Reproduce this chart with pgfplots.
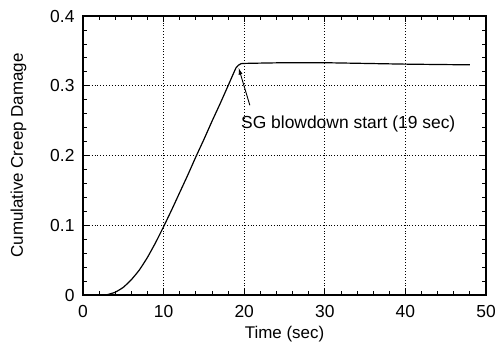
\documentclass[border=0pt]{standalone}
\usepackage{fontspec}
\setmainfont{Liberation Sans}
\usepackage{pgfplots}
\pgfplotsset{compat=1.18}
\usetikzlibrary{arrows.meta}
\begin{document}
\begin{tikzpicture}
\useasboundingbox (-83bp,-54bp) rectangle (415bp,295bp);
\begin{axis}[
  at={(0,0)}, anchor=south west,
  scale only axis, width=403bp, height=279bp,
  xmin=0, xmax=50, ymin=0, ymax=0.4,
  xtick={0,10,20,30,40,50},
  ytick={0,0.1,0.2,0.3,0.4},
  yticklabels={0,0.1,0.2,0.3,0.4},
  minor x tick num=4, minor y tick num=4,
  tick align=inside,
  major tick length=6bp, minor tick length=4bp,
  grid=major,
  major grid style={black, line width=0.9pt, dotted},
  axis line style={line width=1.2pt},
  every tick/.style={black, line width=0.8pt},
  /pgf/number format/assume math mode=true,
  tick label style={font=\fontsize{17.5}{19}\selectfont},
  xticklabel style={yshift=-7bp},
  yticklabel style={xshift=-5bp},
  label style={font=\fontsize{17}{19}\selectfont},
  xlabel={Time (sec)},
  ylabel={Cumulative Creep Damage},
  xlabel style={at={(axis description cs:0.5,-0.14)}, anchor=center},
  ylabel style={at={(axis description cs:-0.16,0.5)}, anchor=center, rotate=0},
]
\addplot[black, line width=1.2pt, smooth, tension=0.3] coordinates {
(0,0) (2.5,0) (3,0.0005) (4,0.004) (5,0.011) (6,0.022) (7,0.036) (8,0.054) (9,0.075) (10,0.098) (11,0.122) (12,0.147) (13,0.172) (14,0.198) (15,0.223) (16,0.249) (17,0.274) (18,0.300) (19,0.326) (19.5,0.331) (20,0.332) (25,0.333) (30,0.333) (40,0.331) (48,0.330)
};
\draw[-{Latex[length=7bp,width=4bp]}, line width=0.9pt] (axis cs:20.7,0.272) -- (axis cs:19.3,0.326);
\node[anchor=west, font=\fontsize{17.5}{19}\selectfont, inner sep=0pt] at (axis cs:19.6,0.245) {SG blowdown start (19 sec)};
\end{axis}
\end{tikzpicture}
\end{document}
